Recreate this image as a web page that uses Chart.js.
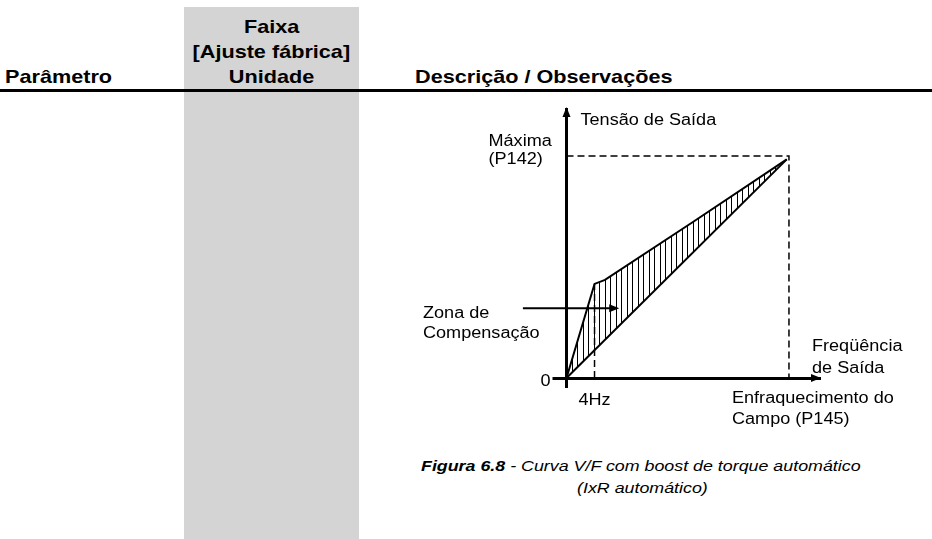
<!DOCTYPE html>
<html>
<head>
<meta charset="utf-8">
<script src="https://cdn.jsdelivr.net/npm/chart.js@4.4.1/dist/chart.umd.min.js"></script>
<style>
  html, body { margin: 0; padding: 0; background: #fff; }
  body { width: 932px; height: 539px; position: relative; overflow: hidden; font-family: "Liberation Sans", Arial, sans-serif; color: #000; }
  .col { position: absolute; left: 184px; top: 7px; width: 175px; height: 532px; background: #d4d4d4; }
  .rule { position: absolute; left: 0; top: 89px; width: 932px; height: 3px; background: #000; }
  .hd { position: absolute; font-weight: bold; font-size: 18.5px; line-height: 18.5px; white-space: nowrap; }
  .hd span { display: inline-block; transform: scaleX(1.17); transform-origin: left center; }
  .hd.c { left: 184px; width: 175px; text-align: center; }
  .hd.c span { transform-origin: center center; }
  .cap { position: absolute; font-style: italic; font-size: 15.5px; line-height: 15.5px; white-space: nowrap; }
  .cap span { display: inline-block; transform: scaleX(1.15); transform-origin: left center; }
  #chart { position: absolute; left: 0; top: 0; }
</style>
</head>
<body>
<div class="col"></div>
<div class="hd" style="left:5px; top:68px"><span>Parâmetro</span></div>
<div class="hd c" style="top:18px"><span>Faixa</span></div>
<div class="hd c" style="top:43px"><span>[Ajuste fábrica]</span></div>
<div class="hd c" style="top:68px"><span>Unidade</span></div>
<div class="hd" style="left:415px; top:68px"><span>Descrição / Observações</span></div>
<div class="rule"></div>
<div class="cap" style="left:421px; top:458px"><span><b>Figura 6.8</b> - Curva V/F com boost de torque automático</span></div>
<div class="cap" style="left:577px; top:480px"><span>(IxR automático)</span></div>
<canvas id="chart" width="932" height="539"></canvas>
<script>
// axis ticks (x in % of P145, y in % of P142)
const xTickValues = [0, 12.6, 100];
const xTickLabels = ['', '4Hz', ['Enfraquecimento do', 'Campo (P145)']];
const yTickValues = [0, 100];
const yTickLabels = ['0', ['Máxima', '(P142)']];

// V/F curve with automatic boost
const boostX = [0, 12.6, 17.3, 57.0, 99.0];
const boostY = [0, 42.4, 44.2, 70.4, 98.5];
// plain V/F line
const linearX = [0, 99.0];
const linearY = [0, 98.5];
// dashed guides
const maxX = [0, 100, 100];
const maxY = [100, 100, 0];
const hzX = [12.6, 12.6];
const hzY = [0, 42.4];
// "Zona de Compensação" arrow (data units)
const zoneArrowX = [-19.6, 23.7];
const zoneArrowY = 31.4;

const pts = (xs, ys) => xs.map((v, i) => ({ x: v, y: ys[i] }));

function hatch() {
    const c = document.createElement('canvas');
    c.width = 11; c.height = 11;
    const g = c.getContext('2d');
    g.fillStyle = '#000';
    g.fillRect(0, 0, 1, 11);
    g.fillRect(5, 0, 1, 11);
    return g.createPattern(c, 'repeat');
}

function text(ctx, s, px, py, align) {
    ctx.save();
    ctx.translate(px, py);
    ctx.scale(1.13, 1);
    ctx.textAlign = align || 'left';
    ctx.fillText(s, 0, 0);
    ctx.restore();
}

function arrowHead(ctx, tx, ty, dir) {
    ctx.beginPath();
    if (dir === 'up') {
        ctx.moveTo(tx, ty);
        ctx.lineTo(tx - 4, ty + 10);
        ctx.lineTo(tx + 4, ty + 10);
    } else {
        ctx.moveTo(tx, ty);
        ctx.lineTo(tx - 10, ty - 4);
        ctx.lineTo(tx - 10, ty + 4);
    }
    ctx.closePath();
    ctx.fill();
}

const figureText = {
    id: 'figureText',
    afterDraw(chart) {
        const { ctx, chartArea, scales: { x, y } } = chart;
        ctx.save();
        ctx.fillStyle = '#000';
        ctx.strokeStyle = '#000';

        // axis arrows
        arrowHead(ctx, chartArea.left, chartArea.top - 2, 'up');
        arrowHead(ctx, chartArea.right + 2, chartArea.bottom, 'right');

        // compensation zone arrow
        const ay = y.getPixelForValue(zoneArrowY);
        const ax0 = x.getPixelForValue(zoneArrowX[0]);
        const ax1 = x.getPixelForValue(zoneArrowX[1]);
        ctx.lineWidth = 2;
        ctx.beginPath();
        ctx.moveTo(ax0, ay);
        ctx.lineTo(ax1 - 6, ay);
        ctx.stroke();
        arrowHead(ctx, ax1, ay, 'right');

        ctx.font = '16px "Liberation Sans", Arial, sans-serif';
        ctx.textBaseline = 'alphabetic';

        // y tick labels
        const y0 = y.getPixelForValue(yTickValues[0]);
        text(ctx, yTickLabels[0], chartArea.left - 16, y0 + 8, 'right');
        const y1 = y.getPixelForValue(yTickValues[1]);
        text(ctx, yTickLabels[1][0], chartArea.left - 78, y1 - 10);
        text(ctx, yTickLabels[1][1], chartArea.left - 78, y1 + 8);

        // x tick labels
        const x1 = x.getPixelForValue(xTickValues[1]);
        text(ctx, xTickLabels[1], x1, chartArea.bottom + 27, 'center');
        const x2 = x.getPixelForValue(xTickValues[2]);
        text(ctx, xTickLabels[2][0], x2 - 57, chartArea.bottom + 25);
        text(ctx, xTickLabels[2][1], x2 - 57, chartArea.bottom + 46);

        // axis titles and note
        text(ctx, 'Tensão de Saída', chartArea.left + 14, chartArea.top + 16);
        text(ctx, 'Freqüência', chartArea.right - 7, chartArea.bottom - 27);
        text(ctx, 'de Saída', chartArea.right - 7, chartArea.bottom - 5);
        text(ctx, 'Zona de', 423, ay + 10);
        text(ctx, 'Compensação', 423, ay + 30);

        ctx.restore();
    }
};

const tickOnlyAtZero = c => (c.tick && c.tick.value === 0 ? '#000' : 'rgba(0,0,0,0)');

new Chart(document.getElementById('chart').getContext('2d'), {
    type: 'line',
    data: {
        datasets: [
            {
                data: pts(boostX, boostY),
                borderColor: '#000',
                borderWidth: 2,
                backgroundColor: hatch(),
                fill: '+1',
                pointRadius: 0,
                tension: 0,
                clip: 10
            },
            {
                data: pts(linearX, linearY),
                borderColor: '#000',
                borderWidth: 2,
                pointRadius: 0,
                fill: false,
                clip: 10
            },
            {
                data: pts(maxX, maxY),
                borderColor: '#000',
                borderWidth: 1.5,
                borderDash: [7, 4],
                pointRadius: 0,
                fill: false,
                clip: 10
            },
            {
                data: pts(hzX, hzY),
                borderColor: '#000',
                borderWidth: 1.5,
                borderDash: [7, 4],
                pointRadius: 0,
                fill: false,
                clip: 10
            }
        ]
    },
    options: {
        responsive: false,
        animation: false,
        events: [],
        layout: { padding: { left: 0, top: 109, right: 113, bottom: 121 } },
        plugins: { legend: { display: false }, tooltip: { enabled: false } },
        scales: {
            x: {
                type: 'linear',
                min: 0,
                max: 113.5,
                afterFit: s => { s.height = 40; },
                afterBuildTicks: s => { s.ticks = xTickValues.map(v => ({ value: v })); },
                ticks: { display: false },
                grid: { drawOnChartArea: false, tickLength: 10, lineWidth: 3, color: tickOnlyAtZero },
                border: { color: '#000', width: 3 }
            },
            y: {
                type: 'linear',
                min: 0,
                max: 121.2,
                afterFit: s => { s.width = 566.5; },
                afterBuildTicks: s => { s.ticks = yTickValues.map(v => ({ value: v })); },
                ticks: { display: false },
                grid: { drawOnChartArea: false, tickLength: 14, lineWidth: 3, color: tickOnlyAtZero },
                border: { color: '#000', width: 3 }
            }
        }
    },
    plugins: [figureText]
});
</script>
</body>
</html>
